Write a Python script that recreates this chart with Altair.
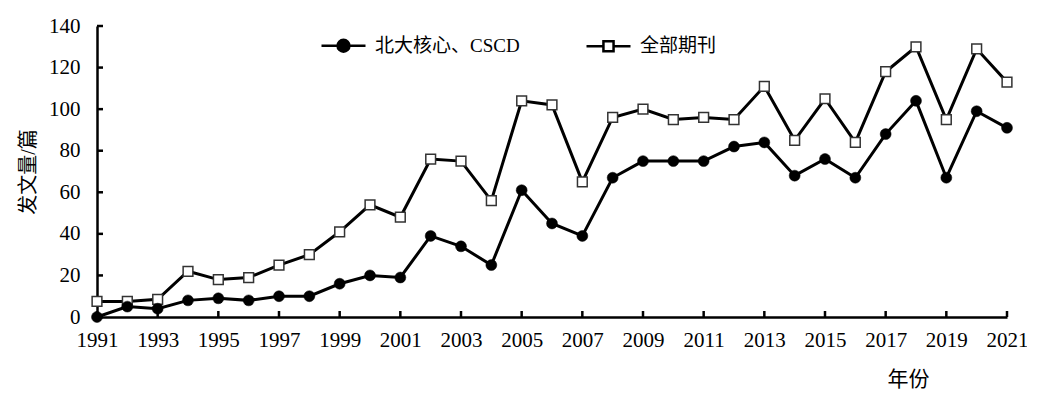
import altair as alt
import pandas as pd

years = list(range(1991, 2022))
core_cscd = [0, 5, 4, 8, 9, 8, 10, 10, 16, 20, 19, 39, 34, 25, 61, 45, 39, 67, 75, 75, 75, 82, 84, 68, 76, 67, 88, 104, 67, 99, 91]
all_journals = [7.5, 7.5, 8.5, 22, 18, 19, 25, 30, 41, 54, 48, 76, 75, 56, 104, 102, 65, 96, 100, 95, 96, 95, 111, 85, 105, 84, 118, 130, 95, 129, 113]
series_names = ["北大核心、CSCD", "全部期刊"]
x_ticks = list(range(1991, 2022, 2))
y_ticks = list(range(0, 141, 20))

FONT = "Liberation Serif, Noto Sans CJK SC"

df = pd.DataFrame({
    "year": years * 2,
    "value": core_cscd + all_journals,
    "series": [series_names[0]] * len(years) + [series_names[1]] * len(years),
})
xt = pd.DataFrame({"yr": x_ticks})
yt = pd.DataFrame({"v": y_ticks})

xscale = alt.Scale(domain=[1991, 2021], nice=False, zero=False)
yscale = alt.Scale(domain=[0, 140], nice=False)

xaxis = alt.Axis(values=x_ticks, format="d", ticks=False, grid=False,
                 domainColor="black", domainWidth=2.5,
                 labelFont=FONT, labelFontSize=21, labelColor="black",
                 labelPadding=12, labelFlush=False, labelOverlap=False,
                 title="年份", titleFont=FONT, titleFontSize=21,
                 titleFontWeight="normal", titleColor="black",
                 titleX=811, titleY=62, titleAlign="center", titleBaseline="middle")
yaxis = alt.Axis(values=y_ticks, ticks=False, grid=False,
                 domainColor="black", domainWidth=2.5,
                 labelFont=FONT, labelFontSize=21, labelColor="black",
                 labelPadding=17, labelOverlap=False,
                 title="发文量/篇", titleFont=FONT, titleFontSize=20,
                 titleFontWeight="normal", titleColor="black",
                 titleAngle=270, titleX=-69, titleY=145.5,
                 titleAlign="center", titleBaseline="middle")

base = alt.Chart(df)

lines = base.mark_line(stroke="black", strokeWidth=3).encode(
    x=alt.X("year:Q", scale=xscale, axis=xaxis),
    y=alt.Y("value:Q", scale=yscale, axis=yaxis),
    detail="series:N",
    order="year:Q",
)

circles = base.transform_filter(alt.datum.series == series_names[0]).mark_point(
    shape="circle", filled=True, fill="black", stroke="black", strokeWidth=0.5,
    size=120, opacity=1
).encode(x=alt.X("year:Q", scale=xscale), y=alt.Y("value:Q", scale=yscale))

squares = base.transform_filter(alt.datum.series == series_names[1]).mark_point(
    shape="square", filled=True, fill="white", stroke="#333333", strokeWidth=1.5,
    size=95, opacity=1
).encode(x=alt.X("year:Q", scale=xscale), y=alt.Y("value:Q", scale=yscale))

circle_sym = "M-1,0H-0.27M0.27,0H1M-0.27,0A0.27,0.27 0 1 1 0.27,0A0.27,0.27 0 1 1 -0.27,0Z"
square_sym = "M-1,0H-0.23M0.23,0H1M-0.23,-0.23H0.23V0.23H-0.23Z"

leg = alt.Legend(title=None, orient="none", legendX=223, legendY=-4,
                 direction="horizontal", symbolSize=1936,
                 symbolStrokeWidth=2.5, symbolStrokeColor="black",
                 labelFont=FONT, labelFontSize=19, labelColor="black",
                 labelOffset=8, columnPadding=61, padding=0)

legend_layer = base.transform_filter("false").mark_point(
    filled=True, strokeWidth=2.5, opacity=1
).encode(
    x=alt.X("year:Q", scale=xscale),
    y=alt.Y("value:Q", scale=yscale),
    shape=alt.Shape("series:N", scale=alt.Scale(domain=series_names, range=[circle_sym, square_sym]), legend=leg),
    fill=alt.Fill("series:N", scale=alt.Scale(domain=series_names, range=["black", "white"]), legend=leg),
    stroke=alt.Stroke("series:N", scale=alt.Scale(domain=series_names, range=["black", "black"]), legend=leg),
)

xtick_rules = alt.Chart(xt).mark_rule(stroke="black", strokeWidth=2.5).encode(
    x=alt.X("yr:Q", scale=xscale), y=alt.value(291), y2=alt.value(285)
)
ytick_rules = alt.Chart(yt).mark_rule(stroke="black", strokeWidth=2.5).encode(
    y=alt.Y("v:Q", scale=yscale), x=alt.value(0), x2=alt.value(6)
)

chart = alt.layer(lines, xtick_rules, ytick_rules, squares, circles, legend_layer).properties(
    width=910, height=291,
    autosize=alt.AutoSizeParams(type="none"),
    padding={"left": 89, "top": 18, "right": 20, "bottom": 80},
    background="white",
).configure_view(stroke=None)

chart.save("out.html", embed_options={"renderer": "svg", "actions": False})
